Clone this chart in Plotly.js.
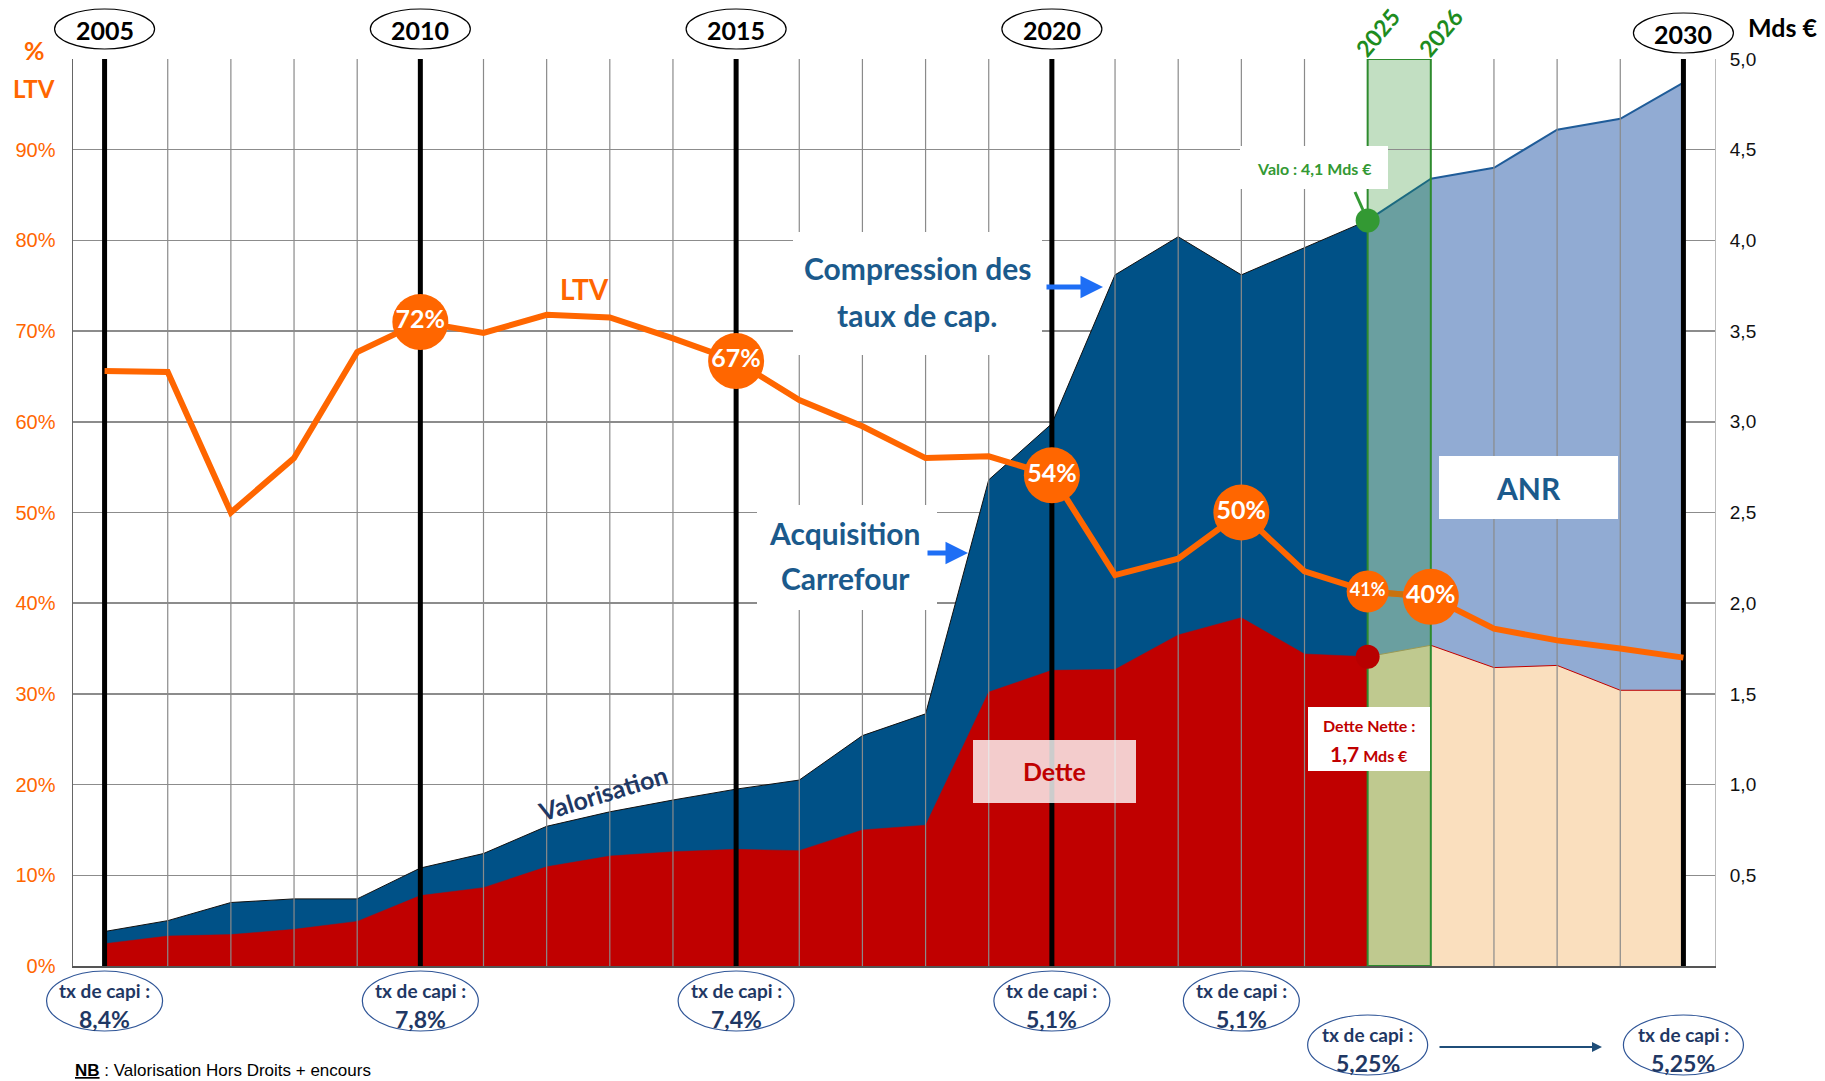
<!DOCTYPE html>
<html>
<head>
<meta charset="utf-8">
<script src="https://cdn.plot.ly/plotly-3.0.1.min.js"></script>
<style>
  html, body { margin: 0; padding: 0; background: #fff; }
  #chart { width: 1825px; height: 1081px; }
</style>
</head>
<body>
<div id="chart"></div>
<script>
// data
const years = [2005, 2006, 2007, 2008, 2009, 2010, 2011, 2012, 2013, 2014, 2015, 2016, 2017,
  2018, 2019, 2020, 2021, 2022, 2023, 2024, 2025, 2026, 2027, 2028, 2029, 2030];
// Mds €
const valo = [0.19, 0.25, 0.35, 0.37, 0.37, 0.54, 0.62, 0.77, 0.85, 0.915, 0.975, 1.025, 1.27,
  1.39, 2.68, 2.99, 3.81, 4.02, 3.81, 3.96, 4.11, 4.34, 4.40, 4.61, 4.67, 4.87];
const dette = [0.123, 0.165, 0.173, 0.202, 0.246, 0.388, 0.432, 0.547, 0.606, 0.63, 0.643, 0.636, 0.75,
  0.776, 1.51, 1.63, 1.635, 1.825, 1.92, 1.72, 1.705, 1.768, 1.645, 1.657, 1.52, 1.52];
// %
const ltv = [65.6, 65.5, 50.0, 56.0, 67.7, 71.0, 69.8, 71.8, 71.5, 69.2, 66.7, 62.4, 59.5,
  56.0, 56.2, 54.1, 43.1, 44.9, 50.0, 43.5, 41.3, 40.7, 37.2, 35.9, 35.0, 34.0];

const ltvMarkYears = [2010, 2015, 2020, 2023, 2025, 2026];
const ltvMarkLabels = ["72%", "67%", "54%", "50%", "41%", "40%"];

const milestoneYears = [2005, 2010, 2015, 2020, 2030];
const forecastYears = [2025, 2026];

const capiYears = [2005, 2010, 2015, 2020, 2023, 2025, 2030];
const capiRates = ["8,4%", "7,8%", "7,4%", "5,1%", "5,1%", "5,25%", "5,25%"];

const pctTicks = [0, 10, 20, 30, 40, 50, 60, 70, 80, 90];
const mdsTicks = [0.5, 1, 1.5, 2, 2.5, 3, 3.5, 4, 4.5, 5];

// fonts / colours
const CAL = 'Lato, "Open Sans", sans-serif';
const NARROW = '"Liberation Sans Narrow", "Liberation Sans", Arial, sans-serif';
const ORANGE = "#FF6600";
const NAVY = "#1F3864";
const BLUE_TXT = "#1B5A8C";
const GREEN = "#2E8B2E";

// plot box in pixels (for placing labels)
const L = 73, R = 1715, T = 59, B = 966;
const xRange = [2004.5, 2030.5];
const pxp = (p) => (p - L) / (R - L);
const py = (p) => (B - p) / (B - T);
const yearPaper = (yr) => (yr - xRange[0]) / (xRange[1] - xRange[0]);

const [fStart, fEnd] = forecastYears;
const seg = (arr, from, to) => arr.slice(years.indexOf(from), years.indexOf(to) + 1);
const segYears = (from, to) => seg(years, from, to);

function vlines(xs, top) {
  const x = [], y = [];
  xs.forEach((v) => { x.push(v, v, null); y.push(0, top, null); });
  return { x, y };
}

function area(from, to, values, fill, lineColor, lineWidth) {
  return {
    x: segYears(from, to), y: seg(values, from, to),
    type: "scatter", mode: "lines", fill: "tozeroy",
    fillcolor: fill, line: { color: lineColor, width: lineWidth },
    yaxis: "y", hoverinfo: "skip",
  };
}

const thinYears = years.filter((y) => !milestoneYears.includes(y) && !forecastYears.includes(y));
const thin = vlines(thinYears, 5);
const thick = vlines(milestoneYears, 5);
const iF = years.indexOf(fStart);

const traces = [
  area(years[0], fStart, valo, "#005187", "#111", 1),
  area(fStart, fEnd, valo, "#6A9FA0", "#1B6A80", 2),
  area(fEnd, years[years.length - 1], valo, "#91ABD3", "#1F5C99", 2),
  area(years[0], fStart, dette, "#C00000", "#C00000", 0.5),
  area(fStart, fEnd, dette, "#BFC98F", "#9a9a55", 1),
  area(fEnd, years[years.length - 1], dette, "#FADFBE", "#C00000", 1),
  { x: thin.x, y: thin.y, type: "scatter", mode: "lines", yaxis: "y",
    line: { color: "#8a8a8a", width: 1.2 }, hoverinfo: "skip" },
  { x: thick.x, y: thick.y, type: "scatter", mode: "lines", yaxis: "y",
    line: { color: "#000", width: 5 }, hoverinfo: "skip" },
  { x: [fStart, fStart, fEnd, fEnd, fStart], y: [0, 5, 5, 0, 0], type: "scatter", mode: "lines",
    yaxis: "y", line: { color: GREEN, width: 2 }, hoverinfo: "skip" },
  { x: [fStart, fStart], y: [valo[iF], dette[iF]], type: "scatter", mode: "markers", yaxis: "y",
    marker: { size: 24, opacity: 1, color: ["#339933", "#B80000"], line: { width: 0 } }, hoverinfo: "skip" },
  // LTV on the % axis, drawn over everything
  { x: years, y: ltv, type: "scatter", mode: "lines", yaxis: "y2",
    line: { color: ORANGE, width: 6 }, hoverinfo: "skip" },
  { x: segYears(fStart, fEnd), y: seg(ltv, fStart, fEnd), type: "scatter", mode: "lines", yaxis: "y2",
    line: { color: "#C8720F", width: 6 }, hoverinfo: "skip" },
  { x: ltvMarkYears, y: ltvMarkYears.map((y) => ltv[years.indexOf(y)]),
    type: "scatter", mode: "markers+text", yaxis: "y2", cliponaxis: false,
    marker: { color: ORANGE, opacity: 1, line: { width: 0 },
      size: ltvMarkYears.map((y) => (y === fStart ? 42 : 56)) },
    text: ltvMarkLabels.map((t) => `<b>${t}</b>`), textposition: "middle center",
    textfont: { family: CAL, color: "#fff", size: ltvMarkYears.map((y) => (y === fStart ? 18 : 25)) },
    hoverinfo: "skip" },
];

function txt(x, y, text, size, color, extra = {}) {
  return Object.assign({
    xref: "paper", yref: "paper", x: pxp(x), y: py(y), text: text, showarrow: false,
    xanchor: "center", yanchor: "middle", font: { family: CAL, size: size, color: color },
  }, extra);
}

function whiteBox(x0, y0, x1, y1, fill = "#fff") {
  return { type: "rect", xref: "paper", yref: "paper", layer: "above",
    x0: pxp(x0), x1: pxp(x1), y0: py(y1), y1: py(y0), fillcolor: fill, line: { width: 0 } };
}

function ellipse(yr, halfW, top, bottom, color) {
  const c = yearPaper(yr), hw = halfW / (R - L);
  return { type: "circle", xref: "paper", yref: "paper", x0: c - hw, x1: c + hw,
    y0: py(bottom), y1: py(top), line: { color: color, width: 1.2 } };
}

const annotations = [
  txt(34, 50, "<b>%</b>", 25, ORANGE),
  txt(34, 88, "<b>LTV</b>", 24, ORANGE),
  txt(1783, 27, "<b>Mds €</b>", 25, "#000"),
  txt(584, 289, "<b>LTV</b>", 28, ORANGE),
  txt(917, 268, "<b>Compression des</b>", 30, BLUE_TXT),
  txt(917, 315, "<b>taux de cap.</b>", 30, BLUE_TXT),
  txt(845, 533, "<b>Acquisition</b>", 30, BLUE_TXT),
  txt(845, 578, "<b>Carrefour</b>", 30, BLUE_TXT),
  txt(602, 793, "<b>Valorisation</b>", 25, NAVY, { textangle: -17 }),
  txt(1054, 771, "<b>Dette</b>", 25, "#C00000"),
  txt(1528, 488, "<b>ANR</b>", 30, BLUE_TXT),
  txt(1314, 168, "<b>Valo : 4,1 Mds €</b>", 16, "#339933"),
  txt(1369, 725, "<b>Dette Nette :</b>", 16, "#C00000"),
  txt(1369, 753, "<b><span style='font-size:21px'>1,7</span> Mds €</b>", 16, "#C00000"),
  txt(1377, 33, "<b>2025</b>", 23, "#1E8C1E", { textangle: -50 }),
  txt(1440, 33, "<b>2026</b>", 23, "#1E8C1E", { textangle: -50 }),
  // arrows
  txt(1103, 287, "", 10, "#1E6EF5", { showarrow: true, ax: -58, ay: 0, arrowhead: 2,
    arrowsize: 0.9, arrowwidth: 5, arrowcolor: "#1E6EF5", standoff: 0 }),
  txt(968, 553, "", 10, "#1E6EF5", { showarrow: true, ax: -42, ay: 0, arrowhead: 2,
    arrowsize: 0.9, arrowwidth: 5, arrowcolor: "#1E6EF5", standoff: 0 }),
  txt(1602, 1047, "", 10, "#1F4E79", { showarrow: true, ax: -164, ay: 0, arrowhead: 2,
    arrowsize: 1, arrowwidth: 2, arrowcolor: "#1F4E79", standoff: 0 }),
  txt(73, 1070, "<b><u>NB</u></b> : Valorisation Hors Droits + encours", 17, "#000",
    { xanchor: "left", font: { family: NARROW, size: 17, color: "#000" } }),
];

const shapes = [
  { type: "rect", xref: "x", yref: "paper", x0: fStart, x1: fEnd, y0: 0, y1: 1,
    fillcolor: "#C2DFC2", line: { width: 0 }, layer: "below" },
  whiteBox(793, 232, 1042, 355),
  whiteBox(757, 505, 937, 610),
  whiteBox(973, 740, 1136, 803, "rgba(255,255,255,0.8)"),
  whiteBox(1439, 456, 1618, 519),
  whiteBox(1240, 146, 1388, 189),
  whiteBox(1308, 707, 1430, 771),
  { type: "line", xref: "paper", yref: "paper", layer: "above",
    x0: pxp(1355), y0: py(192), x1: pxp(1363), y1: py(210), line: { color: "#339933", width: 3 } },
];

// year ellipses on top
milestoneYears.forEach((yr) => {
  const top = yr === 2030 ? 13 : 9;
  shapes.push(ellipse(yr, 50, top, top + 40, "#000"));
  annotations.push(Object.assign(txt(0, top + 21, `<b>${yr}</b>`, 25, "#000"), { xref: "x", x: yr }));
});

// tx de capi ellipses below
capiYears.forEach((yr, i) => {
  const low = yr >= fStart;
  const top = low ? 1015 : 971;
  shapes.push(ellipse(yr, low ? 60 : 58, top, top + 60, "#2F5597"));
  annotations.push(Object.assign(txt(0, top + 19, "<b>tx de capi :</b>", 19, NAVY), { xref: "x", x: yr }));
  annotations.push(Object.assign(txt(0, top + 48, `<b>${capiRates[i]}</b>`, 23, NAVY), { xref: "x", x: yr }));
});

const layout = {
  width: 1825, height: 1081,
  margin: { l: L, r: 1825 - R, t: T, b: 1081 - B },
  paper_bgcolor: "#fff", plot_bgcolor: "#fff",
  showlegend: false, hovermode: false,
  xaxis: {
    range: xRange, showgrid: false, zeroline: false, showticklabels: false,
    showline: true, linecolor: "#555", linewidth: 2, ticks: "", fixedrange: true,
  },
  yaxis: {
    side: "right", range: [0, 5], tickmode: "array", tickvals: mdsTicks,
    ticktext: mdsTicks.map((v) => v.toFixed(1).replace(".", ",")),
    showgrid: true, gridcolor: "#8c8c8c", gridwidth: 1.5,
    zeroline: false, showline: true, linecolor: "#bbb", linewidth: 1, ticks: "",
    ticklabelstandoff: 10, tickfont: { family: NARROW, size: 19, color: "#111" }, fixedrange: true,
  },
  yaxis2: {
    overlaying: "y", side: "left", range: [0, 100], tickmode: "array", tickvals: pctTicks,
    ticktext: pctTicks.map((v) => `${v}%`),
    showgrid: false, zeroline: false, showline: true, linecolor: "#666", linewidth: 1.5,
    ticks: "", ticklabelstandoff: 12, tickfont: { family: NARROW, size: 20, color: ORANGE }, fixedrange: true,
  },
  shapes: shapes,
  annotations: annotations,
};

Plotly.newPlot("chart", traces, layout, { displayModeBar: false, staticPlot: true });
</script>
</body>
</html>
